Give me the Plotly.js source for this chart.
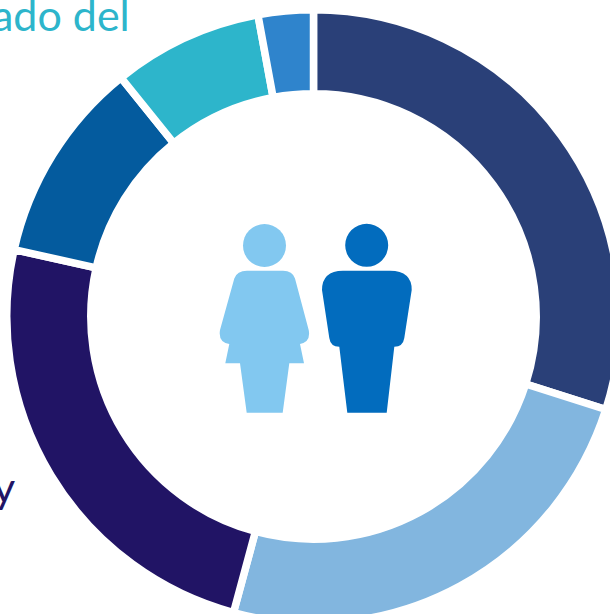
<!DOCTYPE html>
<html>
<head>
<meta charset="utf-8">
<script src="https://cdn.plot.ly/plotly-3.0.1.min.js"></script>
<style>html,body{margin:0;padding:0;width:610px;height:614px;overflow:hidden;background:#fff}#c{width:627px;height:633px}</style>
</head>
<body>
<div id="c"></div>
<script>
const categories = ["Segmento 1","Segmento 2","Segmento 3","Segmento 4","Segmento 5","Segmento 6"];
const shares = [29.9,24.3,24.3,10.7,7.9,2.9];
const sliceColors = ["#2A4078","#82B6DF","#211465","#045B9E","#2DB5CB","#2F84CC"];
const W = 627, H = 633;
const womanColor = "#82C8F0", manColor = "#026CBE";
const X = x => (x/W).toFixed(5);
const Y = y => (1-y/H).toFixed(5);
// turn a pixel path description into paper coordinates
const path = cmds => cmds.map(c => c[0] + (c.length>1 ? ' ' : '') + c.slice(1).map((v,i)=> i%2===0 ? X(v) : Y(v)).join(' ')).join(' ');
const womanBody = [["M",247,270.7],["L",283,270.7],["Q",292.5,270.7,295,278.5],["L",308.7,330],["Q",311,342,300,344],
  ["L",304,363.3],["L",289.3,363.3],["L",282.7,412.7],["L",246.7,412.7],["L",240,363.3],["L",225.3,363.3],["L",229.3,344],
  ["Q",218,342,220,330],["L",234.3,278.5],["Q",237,270.7,247,270.7],["Z"]];
const manBody = [["M",343,270.7],["L",390,270.7],["Q",412,271,411.7,290],["L",404.3,338],["Q",403,346.7,394.3,346.7],
  ["L",386.7,412.7],["L",347.3,412.7],["L",339.3,346.7],["Q",330.5,346.7,329.3,338],["L",322,290],["Q",322,271,343,270.7],["Z"]];
const circle = (cx,cy,r,color) => ({type:"circle",xref:"paper",yref:"paper",x0:X(cx-r),x1:X(cx+r),y0:Y(cy+r),y1:Y(cy-r),fillcolor:color,line:{width:0}});
const body = (p,color) => ({type:"path",xref:"paper",yref:"paper",path:path(p),fillcolor:color,line:{width:0}});
const data = [{
  type:"pie", labels:categories, values:shares, sort:false, direction:"clockwise", rotation:0,
  hole:0.726, textinfo:"none", hoverinfo:"label+percent", automargin:false,
  marker:{colors:sliceColors, line:{color:"#ffffff", width:7.5}},
  domain:{x:[6.75/W,620.25/W], y:[9.75/H,623.25/H]}, showlegend:false
}];
const layout = {
  width:W, height:H, margin:{l:0,r:0,t:0,b:0}, paper_bgcolor:"#fff", showlegend:false,
  shapes:[circle(264.5,245.5,21.5,womanColor), body(womanBody,womanColor), circle(366.7,245.3,21.5,manColor), body(manBody,manColor)],
  annotations:[
    {xref:"paper",yref:"paper",x:131/W,y:1-31/H,xanchor:"right",yanchor:"bottom",showarrow:false,align:"right",borderpad:0,
     text:"ado del",yshift:-10,font:{family:"Lato, sans-serif",size:43,color:"#2DB5CB"}},
    {xref:"paper",yref:"paper",x:16/W,y:1-503/H,xanchor:"right",yanchor:"bottom",showarrow:false,borderpad:0,
     text:"y",yshift:-10,font:{family:"Lato, sans-serif",size:43,color:"#211465"}}
  ]
};
Plotly.newPlot("c",data,layout,{displayModeBar:false,staticPlot:true});
</script>
</body>
</html>
